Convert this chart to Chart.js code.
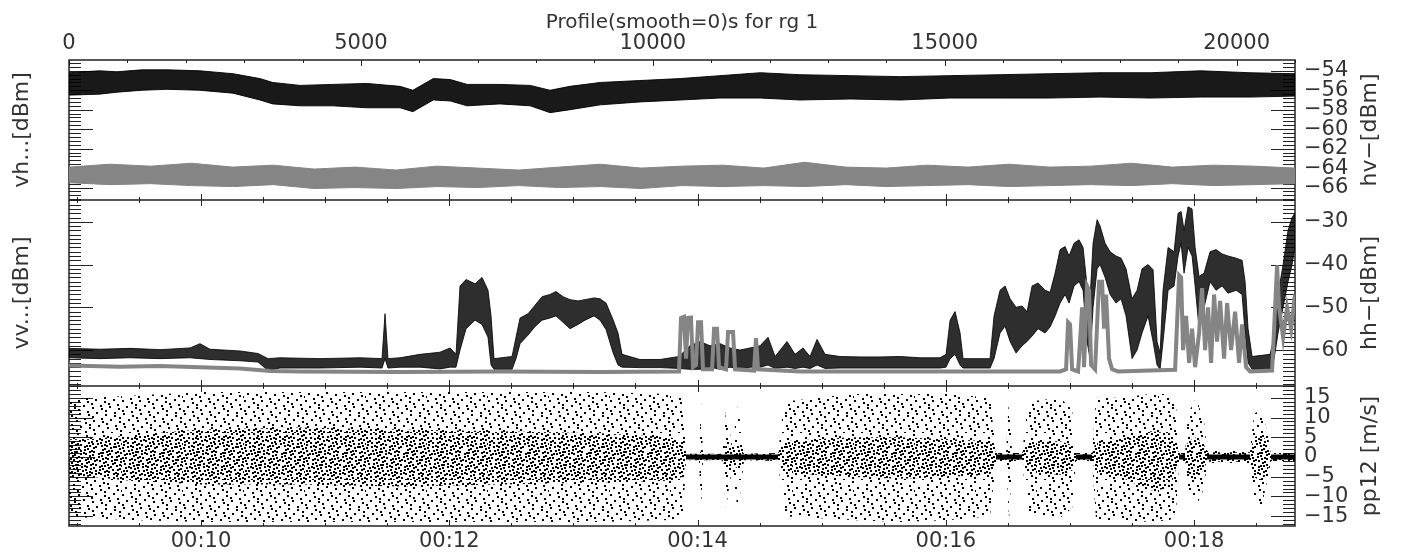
<!DOCTYPE html>
<html>
<head>
<meta charset="utf-8">
<title>Profile(smooth=0)s for rg 1</title>
<script src="https://cdn.jsdelivr.net/npm/chart.js@4.4.1/dist/chart.umd.min.js"></script>
<style>
  body { margin: 0; background: #fff; }
  #wrap { position: relative; width: 1401px; height: 558px; }
  canvas { position: absolute; left: 0; }
</style>
</head>
<body>
<div id="wrap">
  <canvas id="c1" width="1401" height="200" style="top:0"></canvas>
  <canvas id="c2" width="1401" height="186" style="top:200px"></canvas>
  <canvas id="c3" width="1401" height="172" style="top:386px"></canvas>
</div>
<script>
// axis ticks and labels
const profileTicks = [0, 5000, 10000, 15000, 20000];
const timeTickSecs = [600, 720, 840, 960, 1080];
const timeTickLabels = ['00:10', '00:12', '00:14', '00:16', '00:18'];
const hvTicks = [-54, -56, -58, -60, -62, -64, -66];
const hhTicks = [-30, -40, -50, -60];
const ppTicks = [15, 10, 5, 0, -5, -10, -15];

// panel 1: vh (black band) and hv (gray band), dBm
const vhX = [0, 520, 820, 1250, 1680, 2240, 2810, 3270, 3490, 3960, 4520, 5100, 5670, 5890, 6240, 6530, 6820, 7380, 7900, 8240, 8580, 9100, 9780, 10470, 11150, 11840, 12520, 13380, 14240, 15090, 15950, 16800, 17660, 18520, 19380, 20230, 21000];
const vhHigh = [-54.2, -54.0, -54.1, -53.9, -53.9, -54.0, -54.3, -54.8, -55.2, -55.5, -55.4, -55.3, -55.6, -56.0, -54.8, -54.9, -55.4, -55.4, -55.5, -56.0, -55.6, -55.2, -55.0, -54.8, -54.5, -54.2, -54.4, -54.5, -54.6, -54.5, -54.4, -54.3, -54.2, -54.2, -54.0, -54.2, -54.3];
const vhLow = [-56.5, -56.4, -56.2, -56.0, -55.9, -56.0, -56.3, -57.0, -57.4, -57.6, -57.6, -57.8, -57.8, -58.2, -57.0, -57.1, -57.6, -57.4, -57.6, -58.3, -58.0, -57.5, -57.2, -57.0, -56.8, -56.8, -57.0, -56.9, -57.0, -56.8, -56.8, -56.8, -56.7, -56.8, -56.7, -56.7, -56.6];

const hvX = [0, 700, 1400, 2100, 2800, 3500, 4200, 4900, 5600, 6300, 7000, 7700, 8400, 9100, 9800, 10500, 11200, 11900, 12600, 13300, 14000, 14700, 15400, 16100, 16800, 17500, 18200, 18900, 19600, 20300, 21000];
const hvHigh = [-63.9, -63.6, -63.8, -63.5, -63.9, -63.7, -64.1, -63.9, -64.2, -63.8, -64.0, -64.2, -63.9, -63.6, -64.0, -63.8, -63.7, -64.0, -63.4, -63.9, -64.0, -63.7, -63.9, -63.6, -63.9, -63.8, -63.5, -63.9, -63.7, -63.8, -64.0];
const hvLow = [-65.5, -65.7, -65.6, -65.8, -65.9, -65.7, -66.1, -66.0, -66.1, -65.9, -66.0, -65.8, -66.0, -65.9, -66.1, -65.8, -65.9, -65.8, -65.9, -65.7, -65.9, -65.8, -65.7, -65.9, -65.8, -65.7, -65.8, -65.6, -65.8, -65.7, -65.6];

// panel 2: vv (black band) and hh (gray line), dBm
const vvX = [0, 531, 1045, 1559, 2073, 2244, 2415, 2929, 3238, 3409, 3614, 4300, 4985, 5362, 5413, 5464, 5670, 6013, 6355, 6527, 6629, 6698, 6801, 6955, 7075, 7177, 7229, 7280, 7589, 7657, 7726, 7863, 7983, 8103, 8240, 8342, 8462, 8582, 8719, 8839, 8993, 9096, 9199, 9319, 9404, 9473, 9781, 10124, 10449, 10637, 10809, 10980, 11152, 11323, 11494, 11666, 11837, 11974, 12094, 12299, 12436, 12573, 12693, 12813, 12950, 13207, 13550, 13892, 14235, 14578, 14920, 15023, 15092, 15177, 15263, 15314, 15777, 15845, 15948, 16034, 16120, 16222, 16325, 16411, 16497, 16599, 16719, 16805, 16891, 16976, 17062, 17130, 17216, 17301, 17370, 17438, 17490, 17541, 17610, 17661, 17747, 17833, 17935, 18021, 18106, 18209, 18295, 18380, 18483, 18569, 18637, 18689, 18740, 18826, 18929, 18997, 19049, 19100, 19168, 19237, 19289, 19357, 19443, 19545, 19648, 19751, 19854, 19991, 20094, 20145, 20196, 20265, 20573, 20642, 20710, 20796, 20881, 20950, 21000];
const vvHigh = [-59.6, -59.8, -59.6, -59.9, -59.5, -58.5, -59.8, -60.2, -60.8, -62.0, -61.8, -62.0, -61.8, -62.0, -51.5, -62.0, -61.8, -61.0, -60.5, -59.5, -61.0, -45.0, -43.5, -44.5, -43.0, -46.0, -52.0, -62.0, -61.5, -57.0, -52.5, -51.5, -49.5, -47.5, -47.0, -46.3, -47.5, -48.2, -48.5, -48.2, -47.8, -48.0, -49.0, -52.9, -56.0, -61.0, -62.2, -62.2, -61.5, -59.0, -58.0, -59.0, -58.5, -59.5, -60.0, -59.5, -59.0, -57.0, -61.5, -58.0, -61.0, -59.5, -61.5, -57.5, -61.0, -61.5, -61.6, -61.6, -61.5, -61.8, -61.8, -61.0, -53.0, -51.0, -56.0, -62.0, -62.0, -52.0, -46.0, -45.0, -48.0, -50.0, -49.7, -51.0, -45.0, -44.3, -46.0, -46.5, -42.0, -36.5, -35.8, -38.0, -35.0, -34.2, -36.0, -45.0, -48.0, -35.0, -29.5, -31.0, -35.0, -37.0, -38.0, -38.5, -41.0, -48.0, -46.0, -41.0, -40.0, -41.2, -58.0, -60.7, -46.0, -36.0, -37.0, -28.0, -27.6, -32.0, -26.5, -27.0, -36.0, -42.8, -42.0, -37.0, -36.5, -37.5, -38.0, -38.5, -39.0, -44.0, -55.0, -61.5, -61.0, -57.0, -47.0, -40.0, -32.0, -29.0, -27.9];
const vvLow = [-61.8, -62.0, -61.8, -62.0, -61.8, -62.0, -62.2, -62.5, -62.8, -64.8, -64.2, -64.2, -64.0, -64.2, -62.0, -64.2, -64.0, -64.0, -64.4, -64.0, -64.0, -60.0, -55.0, -53.0, -54.0, -57.0, -63.5, -64.5, -64.5, -62.0, -58.5, -56.5, -54.5, -53.0, -52.5, -52.0, -53.5, -55.0, -54.0, -53.0, -52.0, -53.0, -55.2, -60.6, -63.5, -64.0, -64.1, -64.1, -64.3, -64.5, -64.5, -64.0, -64.5, -64.0, -64.5, -64.0, -64.0, -63.5, -64.3, -64.0, -64.3, -64.0, -64.3, -63.5, -64.3, -64.2, -64.2, -64.2, -64.2, -64.2, -64.2, -64.0, -62.0, -61.0, -63.5, -64.2, -64.2, -62.0, -56.0, -54.4, -58.0, -60.7, -59.0, -58.0, -56.7, -55.0, -56.0, -54.6, -52.0, -49.0, -47.0, -49.0, -45.0, -44.0, -46.0, -58.0, -62.0, -50.0, -41.0, -40.0, -43.0, -47.0, -49.0, -48.0, -52.0, -62.0, -60.0, -56.0, -52.0, -58.0, -63.5, -64.5, -58.0, -46.0, -45.0, -38.0, -35.0, -42.0, -36.0, -38.0, -45.0, -55.0, -50.0, -44.0, -46.0, -45.0, -46.7, -46.0, -47.0, -56.0, -63.0, -64.5, -64.5, -62.0, -56.0, -50.0, -44.0, -40.0, -36.0];

const hhX = [0, 874, 1559, 2244, 2929, 3443, 3957, 5670, 7383, 9096, 10449, 10483, 10534, 10569, 10603, 10654, 10689, 10740, 10775, 10826, 10860, 11015, 11049, 11100, 11135, 11254, 11289, 11374, 11409, 11734, 11768, 11803, 12522, 14235, 15948, 16976, 17079, 17113, 17147, 17182, 17284, 17318, 17353, 17387, 17438, 17473, 17507, 17575, 17644, 17695, 17730, 17764, 17815, 17867, 17969, 18518, 18946, 19015, 19049, 19083, 19135, 19186, 19237, 19289, 19357, 19408, 19460, 19511, 19563, 19614, 19665, 19717, 19785, 19837, 19905, 19974, 20042, 20094, 20162, 20231, 20608, 20693, 20727, 20796, 20864, 20933, 21000];
const hhVal = [-63.6, -63.9, -63.7, -64.0, -64.3, -64.9, -65.0, -65.1, -65.0, -65.1, -65.0, -52.5, -52.2, -62.0, -52.5, -52.4, -64.0, -63.5, -53.5, -53.5, -64.5, -64.5, -55.0, -55.0, -64.0, -64.5, -55.8, -55.8, -64.5, -64.8, -57.2, -64.5, -65.0, -65.0, -65.0, -65.0, -64.5, -53.5, -54.0, -64.5, -65.0, -58.0, -50.0, -64.0, -45.0, -46.0, -63.5, -64.5, -44.0, -44.0, -55.0, -47.0, -62.0, -64.5, -65.0, -64.8, -64.6, -42.5, -43.0, -60.0, -52.0, -63.0, -55.0, -64.0, -56.0, -45.5, -60.0, -50.0, -63.0, -47.0, -58.0, -48.5, -62.0, -49.0, -60.0, -51.0, -63.0, -54.0, -64.0, -65.0, -64.8, -40.2, -50.0, -57.0, -50.0, -55.0, -47.0];

// panel 3: pp12 scatter spread (outer sparse, inner dense) and calm stretches, m/s
const ppX = [0, 360, 1045, 2244, 3957, 5670, 7383, 9096, 10295, 10518, 10569, 10792, 10826, 10860, 11186, 11254, 11357, 11460, 11563, 12145, 12248, 13379, 14235, 15092, 15777, 15880, 16051, 16103, 16154, 16325, 16428, 16976, 17182, 17250, 17524, 17592, 18004, 18518, 18860, 18963, 19015, 19117, 19169, 19306, 19443, 19494, 20231, 20299, 20436, 20539, 20590, 21000];
const ppOuterHigh = [14, 15, 15.5, 16.5, 16.5, 16.5, 16.5, 16.5, 16, 15, 0.8, 0.8, 14, 0.8, 0.8, 12, 3, 13, 0.8, 1, 14, 16, 16, 16, 15, 1, 1, 16, 1, 1, 14, 15, 12, 1, 1, 15, 15, 16, 16, 13, 1, 1, 11, 15, 9, 1.5, 1.5, 11, 12, 5, 1, 1];
const ppOuterLow = [-15, -15.5, -16, -16.5, -16.5, -16.5, -16.5, -16.5, -16, -15, -0.8, -0.8, -14, -0.8, -0.8, -13, -3, -14, -0.8, -1, -15, -16, -16.5, -16, -15, -1, -1, -16, -1, -1, -14.5, -15.5, -13, -1, -1, -16, -16, -16.5, -16, -14, -1, -1, -9, -12.5, -8, -1.5, -1.5, -12, -12, -5, -1, -1];
const ppInnerHigh = [4.5, 4.5, 5.5, 7, 7.5, 7, 6.5, 6, 5, 4, 0.8, 0.8, 1.5, 0.8, 0.8, 3, 2, 3, 0.8, 1, 4, 5, 5, 4.5, 4, 1, 1, 2, 1, 1, 4, 4, 3, 1, 1, 4, 4.5, 6.5, 6, 3, 1, 1, 4, 5, 3, 1.2, 1.2, 5, 6, 3, 1, 1];
const ppInnerLow = [-5, -5, -6, -7, -7, -7.5, -7, -6.5, -6, -5, -0.8, -0.8, -1.5, -0.8, -0.8, -3, -2, -3, -0.8, -1, -4, -5, -5.5, -5, -4.5, -1, -1, -2, -1, -1, -4, -4.5, -3.5, -1, -1, -4, -5, -8.5, -8, -3, -1, -1, -4, -6, -3, -1.2, -1.2, -5, -6.5, -3, -1, -1];
const ppCalm = [null, null, null, null, null, null, null, null, null, null, 0, 0, 0, 0, 0, 0, 0, 0, 0, 0, null, null, null, null, null, 0, 0, 0, 0, 0, null, null, null, 0, 0, null, null, null, null, null, 0, 0, null, null, null, 0, 0, null, null, null, 0, 0];

const profileRange = [0, 21000];
const timeRange = [536.2, 1128.8];
const grayColor = '#858585';
const textColor = '#333';

Chart.defaults.font.family = "'DejaVu Sans', sans-serif";
Chart.defaults.color = textColor;

function pts(xs, ys) {
    return xs.map((x, i) => ({ x: x, y: ys[i] }));
}

function band(xs, hi, lo, color, edge) {
    const line = edge === undefined ? color : edge;
    return [
        { data: pts(xs, hi), borderColor: line, backgroundColor: color, borderWidth: 1, pointRadius: 0, fill: '+1' },
        { data: pts(xs, lo), borderColor: line, borderWidth: 1, pointRadius: 0, fill: false }
    ];
}

// stippled fill texture (evenly spread dots) so the scatter areas read as dots
function dotFill(count, shift) {
    const w = 61, h = 47;
    const c = document.createElement('canvas');
    c.width = w;
    c.height = h;
    const g = c.getContext('2d');
    g.fillStyle = '#000';
    for (let i = 1; i <= count; i++) {
        const u = (shift + i * 0.7548776662) % 1;
        const v = (shift * 0.5 + i * 0.5698402910) % 1;
        g.fillRect(Math.floor(u * w), Math.floor(v * h), 2, 2);
    }
    return g.createPattern(c, 'repeat');
}

function minus(v) {
    return v < 0 ? '\u2212' + Math.abs(v) : String(v);
}

// inward major/minor tick marks plus the frame, like the IDL plot
const idlFrame = {
    id: 'idlFrame',
    beforeDatasetsDraw(chart, args, opts) {
        const ctx = chart.ctx;
        const a = chart.chartArea;
        const marks = (scale, step, major, fn) => {
            const first = Math.ceil(scale.min / step - 1e-6);
            const last = Math.floor(scale.max / step + 1e-6);
            for (let i = first; i <= last; i++) {
                const r = i * step / major;
                fn(Math.round(scale.getPixelForValue(i * step)) + 0.5, Math.abs(r - Math.round(r)) < 1e-6);
            }
        };
        ctx.save();
        ctx.strokeStyle = '#222';
        ctx.lineWidth = 1;
        ctx.beginPath();
        const t = opts.top, b = opts.bottom;
        marks(chart.scales[t.id], t.step, t.major, (px, m) => {
            ctx.moveTo(px, a.top); ctx.lineTo(px, a.top + (m ? 6 : 3));
        });
        marks(chart.scales[b.id], b.step, b.major, (px, m) => {
            ctx.moveTo(px, a.bottom); ctx.lineTo(px, a.bottom - (m ? 6 : 3));
        });
        marks(chart.scales.y, opts.yStep, opts.yMajor, (py, m) => {
            const len = m ? 24 : 12;
            ctx.moveTo(a.left, py); ctx.lineTo(a.left + len, py);
            ctx.moveTo(a.right, py); ctx.lineTo(a.right - len, py);
        });
        ctx.stroke();
        ctx.lineWidth = 1.5;
        ctx.strokeRect(a.left, a.top, a.right - a.left, a.bottom - a.top);
        ctx.restore();
    }
};

// right-hand axis title, reading bottom to top
const sideTitle = {
    id: 'sideTitle',
    afterDraw(chart, args, opts) {
        const ctx = chart.ctx;
        const a = chart.chartArea;
        ctx.save();
        ctx.translate(chart.scales.yR.right - 31, (a.top + a.bottom) / 2);
        ctx.rotate(-Math.PI / 2);
        ctx.font = "22px 'DejaVu Sans'";
        ctx.fillStyle = textColor;
        ctx.textAlign = 'center';
        ctx.textBaseline = 'middle';
        ctx.fillText(opts.text, 0, 0);
        ctx.restore();
    }
};

function yScales(range, ticks, leftTitle) {
    return {
        y: {
            position: 'left', min: range[0], max: range[1],
            afterFit: s => { s.width = 69; s.paddingTop = 0; s.paddingBottom = 0; },
            grid: { display: false, drawTicks: false },
            border: { display: false },
            ticks: { display: false },
            title: { display: !!leftTitle, text: leftTitle || '', font: { size: 22 }, color: textColor, padding: { top: 9, bottom: 0 } }
        },
        yR: {
            position: 'right', min: range[0], max: range[1],
            afterFit: s => { s.width = 106; s.paddingTop = 0; s.paddingBottom = 0; },
            afterBuildTicks: s => { s.ticks = ticks.map(v => ({ value: v })); },
            grid: { display: false, drawTicks: false },
            border: { display: false },
            ticks: { padding: 9, font: { size: 21 }, color: textColor, autoSkip: false, callback: v => minus(v) }
        }
    };
}

function hiddenX(range) {
    return { type: 'linear', display: false, min: range[0], max: range[1] };
}

function makeChart(id, datasets, scales, frame, rightTitle) {
    datasets.forEach(d => { d.xAxisID = 'x'; d.yAxisID = 'y'; d.tension = 0; });
    return new Chart(document.getElementById(id), {
        type: 'line',
        data: { datasets: datasets },
        options: {
            responsive: false,
            animation: false,
            events: [],
            layout: { padding: 0, autoPadding: false },
            scales: scales,
            plugins: {
                legend: { display: false },
                tooltip: { enabled: false },
                idlFrame: frame,
                sideTitle: { text: rightTitle }
            }
        },
        plugins: [idlFrame, sideTitle]
    });
}

const timeMarks = { id: 'xt', step: 30, major: 120 };

// panel 1
makeChart('c1',
    band(hvX, hvHigh, hvLow, grayColor).concat(band(vhX, vhHigh, vhLow, 'rgba(0,0,0,0.9)')),
    Object.assign({
        x: {
            type: 'linear', position: 'top', min: profileRange[0], max: profileRange[1],
            afterFit: s => { s.height = 60; s.paddingLeft = 0; s.paddingRight = 0; },
            afterBuildTicks: s => { s.ticks = profileTicks.map(v => ({ value: v })); },
            grid: { display: false, drawTicks: false },
            border: { display: false },
            ticks: { padding: 4, autoSkip: false, maxRotation: 0, font: { size: 21 }, color: textColor, callback: v => String(v) },
            title: { display: true, text: 'Profile(smooth=0)s for rg 1', font: { size: 20 }, color: textColor, padding: { top: 11, bottom: 0 } }
        },
        xt: hiddenX(timeRange)
    }, yScales([-67.28, -52.89], hvTicks, 'vh...[dBm]')),
    { top: { id: 'x', step: 1000, major: 5000 }, bottom: timeMarks, yStep: 0.4, yMajor: 2 },
    'hv\u2212[dBm]');

// panel 2
makeChart('c2',
    [{ data: pts(hhX, hhVal), borderColor: grayColor, borderWidth: 4, pointRadius: 0, fill: false }]
        .concat(band(vvX, vvHigh, vvLow, 'rgba(0,0,0,0.82)')),
    Object.assign({
        x: hiddenX(profileRange),
        xt: hiddenX(timeRange)
    }, yScales([-68.4, -24.9], hhTicks, 'vv...[dBm]')),
    { top: timeMarks, bottom: timeMarks, yStep: 1, yMajor: 10 },
    'hh\u2212[dBm]');

// panel 3
makeChart('c3',
    band(ppX, ppOuterHigh, ppOuterLow, dotFill(85, 0.13), 'rgba(0,0,0,0)')
        .concat(band(ppX, ppInnerHigh, ppInnerLow, dotFill(150, 0.61), 'rgba(0,0,0,0)'))
        .concat([{ data: pts(ppX, ppCalm), borderColor: '#000', borderWidth: 5, pointRadius: 0, fill: false, spanGaps: false }]),
    Object.assign({
        x: hiddenX(profileRange),
        xt: {
            type: 'linear', position: 'bottom', min: timeRange[0], max: timeRange[1],
            afterFit: s => { s.height = 32; s.paddingLeft = 0; s.paddingRight = 0; },
            afterBuildTicks: s => { s.ticks = timeTickSecs.map(v => ({ value: v })); },
            grid: { display: false, drawTicks: false },
            border: { display: false },
            ticks: { padding: 3, autoSkip: false, maxRotation: 0, font: { size: 21 }, color: textColor, callback: (v, i) => timeTickLabels[i] }
        }
    }, yScales([-17.5, 18], ppTicks, '')),
    { top: timeMarks, bottom: timeMarks, yStep: 1, yMajor: 5 },
    'pp12 [m/s]');
</script>
</body>
</html>
